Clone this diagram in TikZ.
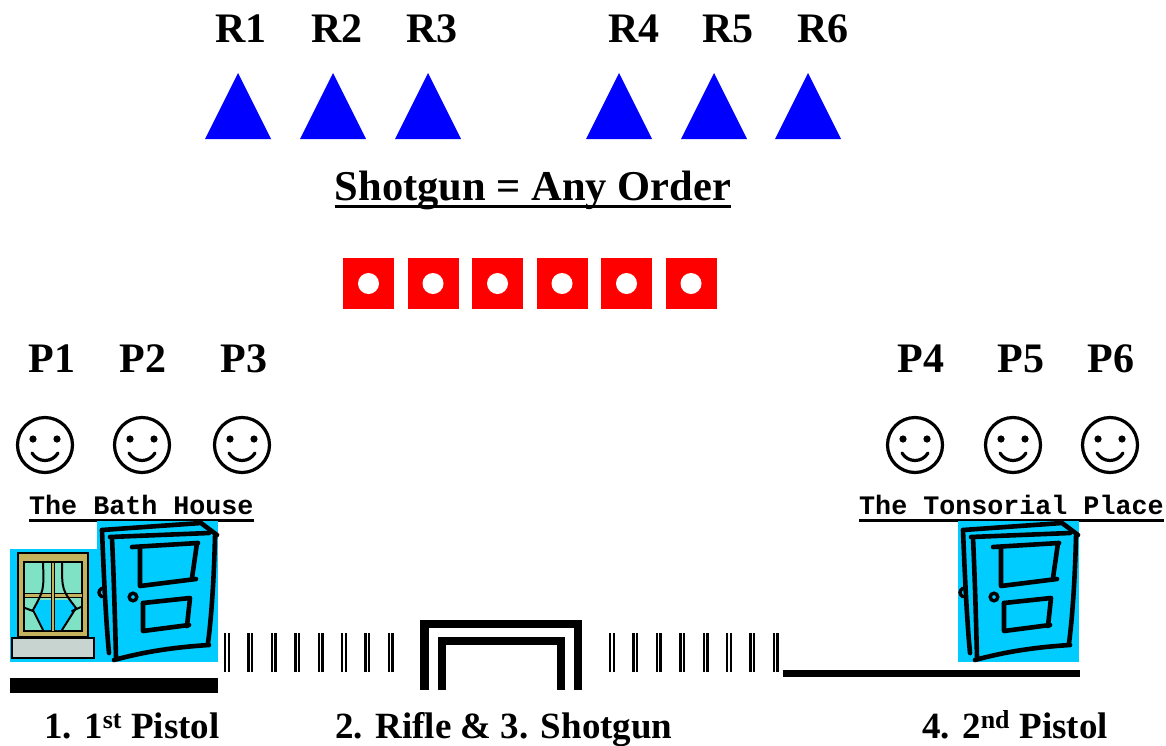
\documentclass[tikz,border=0pt]{standalone}
\usepackage{fontspec}
\setmainfont{Liberation Serif}
\setmonofont{Liberation Mono}
\usetikzlibrary{calc, positioning}

\definecolor{doorcyan}{HTML}{00CCFF}
\definecolor{frameolive}{HTML}{C4B25C}
\definecolor{panegreen}{HTML}{80E2C4}
\definecolor{sillgray}{HTML}{C8D4D0}

\tikzset{
  big/.style={font=\fontsize{42}{48}\selectfont\bfseries, inner sep=0pt, anchor=base},
  stagelabel/.style={font=\fontsize{37}{44}\selectfont\bfseries, inner sep=0pt, anchor=base},
  sign/.style={font=\fontsize{26.7}{30}\selectfont\ttfamily\bfseries, inner sep=0pt, anchor=base west},
  stroke/.style={line width=4.6, line cap=round, line join=round},
  target/.style={fill=red, minimum size=51pt, inner sep=0pt},
  door/.pic={
    \fill[doorcyan] (0,0) rectangle (121,141);
    \draw[stroke] (5,9) -- (104,2) -- (120,14);
    \draw[stroke] (13,16) -- (112,12);
    \draw[stroke] (5,9) .. controls (7,60) and (9,100) .. (12,132);
    \draw[stroke] (15,17) .. controls (17,60) and (18,100) .. (19,136);
    \draw[stroke] (118,15) .. controls (117,60) and (114,100) .. (111,122);
    \draw[stroke] (17,139) .. controls (50,130) and (80,126) .. (112,124);
    % panels
    \draw[stroke] (35,26) -- (101,22);
    \draw[stroke] (43,27) -- (43,65) -- (99,58);
    \draw[stroke] (100,22) -- (95,57);
    \draw[stroke] (46,82) -- (93,77) -- (90,105);
    \draw[stroke] (46,82) -- (46,110) -- (92,104);
    % knob
    \draw[line width=3.4] (36,76) circle (3.8);
    \draw[line width=3.4, line cap=round] (5,67) .. controls (1,70) and (1,73) .. (5,76);
  },
  smiley/.pic={
    \draw[line width=3.2] (0,0) circle (27.5);
    \fill (-12,-6) circle (3.6) (12,-6) circle (3.6);
    \draw[line width=3.2, line cap=round] (-13,8) .. controls (-7,18) and (7,18) .. (13,8);
  },
  fence/.pic={
    \foreach \i in {0,...,7} {
      \fill ({23.4*\i},0) rectangle ++(2.4,39);
      \fill ({23.4*\i+3.6},0) rectangle ++(2.4,39);
    };
  },
}

\begin{document}
\begin{tikzpicture}[x=1pt, y=-1pt]
    \useasboundingbox (0,0) rectangle (1166,745);

    % rifle targets
    \foreach \x/\n/\t in {241/1/238, 337/2/333, 432/3/428, 634/4/619, 728/5/714, 823/6/808} {
        \node[big] (r\n) at (\x,42) {R\n};
        \fill[blue] (\t-33,139) -- (\t,73) -- (\t+33,139) -- cycle;
    };

    \node[big, font=\fontsize{42.5}{48}\selectfont\bfseries] (shotgun) at (533,200) {Shotgun = Any Order};
    \draw[line width=3] ($(shotgun.base west)+(0,6)$) -- ($(shotgun.base east)+(0,6)$);

    % shotgun targets
    \foreach \i in {1,...,6} {
        \node[target] (sq\i) at ({304+64.5*\i},283.5) {};
        \fill[white] (sq\i.center) circle (10.5);
    };

    % pistol targets
    \foreach \x/\n/\s in {52/1/45, 143/2/142, 244/3/242, 921/4/915, 1021/5/1013, 1111/6/1110} {
        \node[big] (p\n) at (\x,372) {P\n};
        \pic at (\s,445) {smiley};
    };

    \node[sign] (bath) at (29,514) {The Bath House};
    \draw[line width=3] ($(bath.base west)+(0,6.5)$) -- ($(bath.base east)+(0,6.5)$);
    \node[sign] (tonsorial) at (859,514) {The Tonsorial Place};
    \draw[line width=3] ($(tonsorial.base west)+(0,6.5)$) -- ($(tonsorial.base east)+(0,6.5)$);

    % window
    \fill[doorcyan] (10,549) rectangle (97,662);
    \filldraw[fill=frameolive, line width=1.8] (18,553) rectangle (88,637);
    \filldraw[fill=panegreen, line width=2] (24,562) rectangle (82,631);
    \fill[doorcyan] (34,608) .. controls (38,618) .. (43,630) -- (62,630) .. controls (68,618) .. (77,608) -- (70,600) -- (40,600) -- cycle;
    \filldraw[fill=frameolive, line width=1] (24,593) rectangle (82,597);
    \filldraw[fill=frameolive, line width=1] (51,562) rectangle (54.5,631);
    \draw[line width=2, line cap=round] (43,562) .. controls (44,590) .. (33,610) -- (43,630);
    \draw[line width=2, line cap=round] (62,562) .. controls (62,590) .. (76,608) -- (62,630);
    \draw[line width=2, line cap=round] (25,608) -- (33,611) (72,611) -- (81,607);
    \filldraw[fill=sillgray, line width=2.2] (12,638) rectangle (94,658);

    \pic at (97,521) {door};
    \pic at (958,521) {door};

    \fill (10,678) rectangle (218,693);
    \pic at (224,633) {fence};
    \pic at (609,633) {fence};

    % rifle frame
    \draw[line width=8.5] (424.5,690) -- (424.5,624) -- (578,624) -- (578,690);
    \draw[line width=8] (442,690) -- (442,641) -- (560.5,641) -- (560.5,690);

    \draw[line width=7] (783,673.5) -- (1080,673.5);

    \node[stagelabel] (first) at (132,738) {1. 1\textsuperscript{st} Pistol};
    \node[stagelabel] (middle) at (504,738) {2. Rifle \& 3. Shotgun};
    \node[stagelabel] (second) at (1015,738) {4. 2\textsuperscript{nd} Pistol};
\end{tikzpicture}
\end{document}
